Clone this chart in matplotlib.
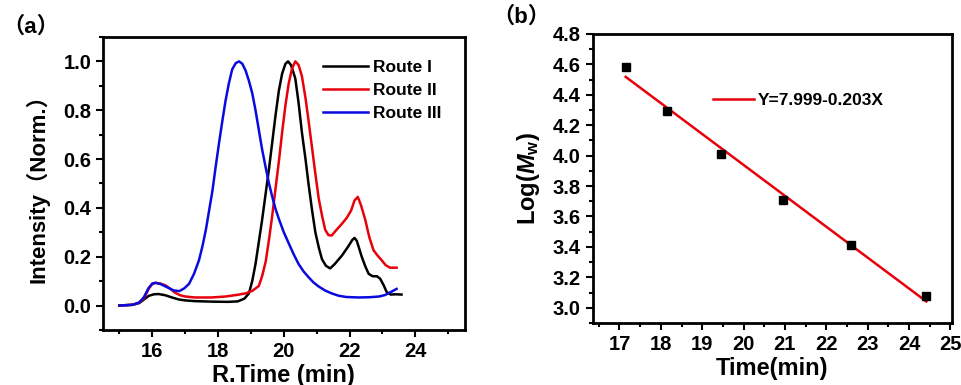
import numpy as np
import matplotlib
matplotlib.use("Agg")
import matplotlib.pyplot as plt
from matplotlib.ticker import MultipleLocator

plt.rcParams['font.family'] = ['Liberation Sans', 'Noto Sans CJK SC', 'DejaVu Sans']
plt.rcParams['font.weight'] = 'bold'
plt.rcParams['mathtext.fontset'] = 'custom'
plt.rcParams['mathtext.rm'] = 'Liberation Sans:bold'
plt.rcParams['mathtext.it'] = 'Liberation Sans:italic:bold'
plt.rcParams['mathtext.bf'] = 'Liberation Sans:bold'

# ---- Panel (a) data: GPC traces ----
t_route1 = [15.0, 15.4, 15.6, 15.75, 15.9, 16.05, 16.2, 16.4, 16.6, 16.8, 17.0, 17.3, 17.8, 18.3,
            18.6, 18.8, 18.94, 19.04, 19.14, 19.24, 19.34, 19.45, 19.55, 19.65, 19.75, 19.85,
            19.95, 20.05, 20.13, 20.22, 20.35, 20.45, 20.55, 20.66, 20.76, 20.86, 20.96, 21.06,
            21.16, 21.28, 21.41, 21.55, 21.77, 21.95, 22.08, 22.15, 22.22, 22.37, 22.48, 22.58,
            22.7, 22.83, 22.93, 23.03, 23.13, 23.25, 23.4, 23.58]
v_route1 = [0.0, 0.003, 0.01, 0.025, 0.04, 0.046, 0.047, 0.042, 0.033, 0.025, 0.021, 0.018, 0.016, 0.015,
            0.017, 0.028, 0.05, 0.10, 0.17, 0.26, 0.35, 0.46, 0.56, 0.67, 0.78, 0.88,
            0.95, 0.99, 1.0, 0.985, 0.93, 0.83, 0.71, 0.60, 0.49, 0.39, 0.30, 0.24,
            0.19, 0.163, 0.152, 0.17, 0.205, 0.24, 0.268, 0.277, 0.265, 0.20, 0.16, 0.13,
            0.12, 0.12, 0.11, 0.085, 0.055, 0.045, 0.046, 0.045]

t_route2 = [15.0, 15.4, 15.6, 15.75, 15.9, 16.0, 16.1, 16.25, 16.41, 16.55, 16.7, 16.85, 17.0, 17.3,
            17.8, 18.23, 18.6, 18.84, 19.04, 19.24, 19.34, 19.45, 19.55, 19.65, 19.75, 19.85,
            19.95, 20.05, 20.15, 20.25, 20.35, 20.45, 20.55, 20.66, 20.76, 20.86, 20.96, 21.06,
            21.16, 21.26, 21.36, 21.46, 21.57, 21.67, 21.8, 21.92, 22.05, 22.15, 22.25, 22.35,
            22.48, 22.6, 22.73, 22.85, 22.98, 23.1, 23.23, 23.43]
v_route2 = [0.0, 0.003, 0.012, 0.03, 0.07, 0.088, 0.093, 0.09, 0.082, 0.068, 0.052, 0.042, 0.037, 0.033,
            0.033, 0.037, 0.044, 0.05, 0.06, 0.08, 0.12, 0.18, 0.27, 0.37, 0.48, 0.59,
            0.71, 0.82, 0.91, 0.97, 1.0, 0.985, 0.94, 0.85, 0.75, 0.645, 0.54, 0.44,
            0.37, 0.31, 0.288, 0.287, 0.305, 0.32, 0.34, 0.36, 0.39, 0.43, 0.445, 0.41,
            0.35, 0.28, 0.226, 0.205, 0.185, 0.165, 0.155, 0.155]

t_route3 = [15.0, 15.4, 15.6, 15.75, 15.88, 16.0, 16.1, 16.25, 16.45, 16.65, 16.82, 16.97, 17.12,
            17.27, 17.42, 17.53, 17.63, 17.73, 17.83, 17.93, 18.03, 18.13, 18.23, 18.33, 18.43,
            18.54, 18.64, 18.74, 18.84, 18.94, 19.04, 19.14, 19.24, 19.34, 19.45, 19.55, 19.65,
            19.75, 19.85, 20.0, 20.15, 20.3, 20.45, 20.6, 20.76, 20.9, 21.06, 21.25, 21.45,
            21.67, 21.9, 22.27, 22.6, 22.9, 23.08, 23.25, 23.43]
v_route3 = [0.0, 0.003, 0.012, 0.035, 0.07, 0.09, 0.093, 0.088, 0.075, 0.062, 0.059, 0.07, 0.089,
            0.13, 0.185, 0.245, 0.31, 0.39, 0.47, 0.57, 0.665, 0.755, 0.84, 0.91, 0.967,
            0.993, 1.0, 0.99, 0.962, 0.92, 0.87, 0.80, 0.72, 0.64, 0.565, 0.50, 0.445,
            0.395, 0.355, 0.30, 0.255, 0.21, 0.17, 0.14, 0.115, 0.095, 0.078, 0.062, 0.05,
            0.04, 0.035, 0.033, 0.034, 0.037, 0.043, 0.055, 0.068]

series_labels = ['Route I', 'Route II', 'Route III']
series_colors = ['#000000', '#e8000b', '#0a0ae0']

# ---- Panel (b) data: calibration ----
time_b = [17.15, 18.15, 19.45, 20.95, 22.6, 24.42]
logmw_b = [4.58, 4.29, 4.01, 3.71, 3.41, 3.08]
fit_intercept = 7.999
fit_slope = -0.203
fit_label = 'Y=7.999-0.203X'

fig = plt.figure(figsize=(9.62, 3.85), dpi=100)

# Panel (a)
axa = fig.add_axes([0.107, 0.143, 0.376, 0.761])
for t, v, lab, c in zip([t_route1, t_route2, t_route3], [v_route1, v_route2, v_route3],
                        series_labels, series_colors):
    axa.plot(t, v, color=c, lw=1.8, label=lab, solid_joinstyle='round')
axa.set_xlim(14.5, 25.5)
axa.set_ylim(-0.1, 1.1)
axa.xaxis.set_major_locator(MultipleLocator(2))
axa.xaxis.set_minor_locator(MultipleLocator(1))
axa.yaxis.set_minor_locator(MultipleLocator(0.1))
axa.set_yticks([0.0, 0.2, 0.4, 0.6, 0.8, 1.0])
axa.set_xlabel('R.Time (min)', fontsize=17, fontweight='bold', labelpad=2)
axa.set_ylabel('Intensity（Norm.）', fontsize=16, fontweight='bold', labelpad=10)
axa.legend(loc='upper right', frameon=False, fontsize=12.5, handlelength=2.6,
           handletextpad=0.3, labelspacing=0.45, bbox_to_anchor=(0.98, 0.975))
fig.text(0.002, 0.93, '（a）', fontsize=16, fontweight='bold', ha='left', va='center')

# Panel (b)
axb = fig.add_axes([0.616, 0.161, 0.374, 0.751])
axb.plot(time_b, logmw_b, 's', color='black', ms=5.5, zorder=3)
xfit = np.array([time_b[0], time_b[-1]])
axb.plot(xfit, fit_intercept + fit_slope * xfit, color='#e8000b', lw=1.8, label=fit_label)
axb.set_xlim(16.35, 25.05)
axb.set_ylim(2.9, 4.8)
axb.xaxis.set_major_locator(MultipleLocator(1))
axb.xaxis.set_minor_locator(MultipleLocator(0.5))
axb.yaxis.set_minor_locator(MultipleLocator(0.1))
axb.set_yticks(np.round(np.arange(3.0, 4.81, 0.2), 1))
axb.set_xlabel('Time(min)', fontsize=17, fontweight='bold', labelpad=2)
axb.set_ylabel(r'Log($M_{\mathrm{w}}$)', fontsize=17, fontweight='bold', labelpad=8)
axb.legend(loc='upper left', frameon=False, fontsize=12.5, handlelength=2.4,
           handletextpad=0.2, bbox_to_anchor=(0.29, 0.85))
fig.text(0.512, 0.955, '（b）', fontsize=16, fontweight='bold', ha='left', va='center')

for ax in (axa, axb):
    for s in ax.spines.values():
        s.set_linewidth(2)
    ax.tick_params(which='both', direction='out', top=False, right=False,
                   labelsize=14.5, width=1.5)
    ax.tick_params(which='major', length=5)
    ax.tick_params(which='minor', length=3)
    for lbl in ax.get_xticklabels() + ax.get_yticklabels():
        lbl.set_fontweight('bold')

fig.savefig('out.png', dpi=100)
